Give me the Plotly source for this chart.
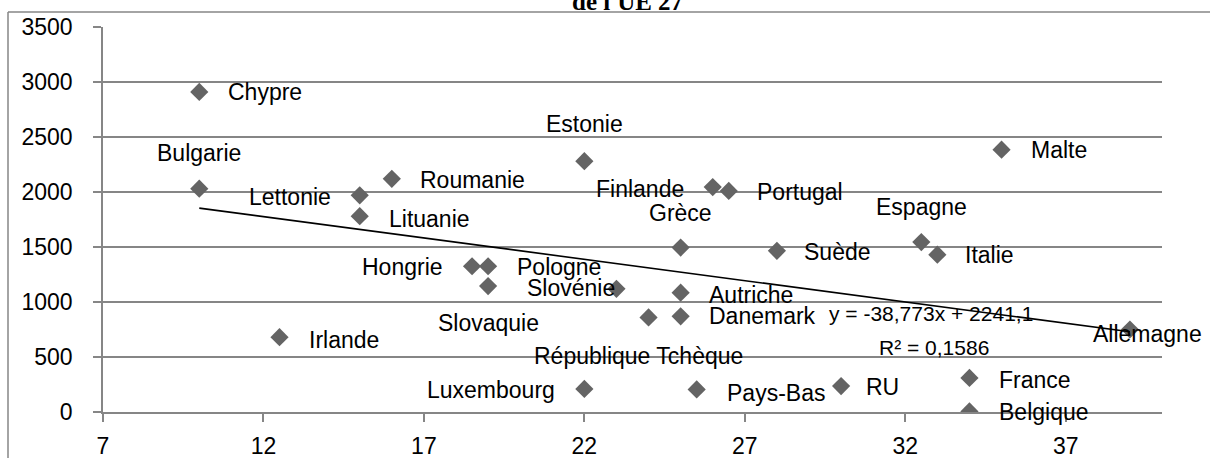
import plotly.graph_objects as go

# ---------------- data ----------------
countries = ["Chypre", "Bulgarie", "Lettonie", "Lituanie", "Roumanie", "Irlande",
             "Hongrie", "Pologne", "Slovaquie", "Estonie", "Luxembourg", "Slovénie",
             "République Tchèque", "Grèce", "Autriche", "Danemark", "Finlande",
             "Pays-Bas", "Portugal", "Suède", "RU", "Espagne", "Italie", "France",
             "Belgique", "Malte", "Allemagne"]
x_vals = [10, 10, 15, 15, 16, 12.5, 18.5, 19, 19, 22, 22, 23, 24, 25, 25, 25, 26,
          25.5, 26.5, 28, 30, 32.5, 33, 34, 34, 35, 39]
y_vals = [2910, 2030, 1970, 1780, 2120, 680, 1325, 1325, 1145, 2280, 210, 1120, 860,
          1495, 1085, 870, 2045, 205, 2010, 1465, 236, 1545, 1430, 310, 5, 2385, 750]

trend_slope = -38.773
trend_intercept = 2241.1
r_squared = "0,1586"
equation_text = "y = -38,773x + 2241,1"
title_text = "de l'UE 27"

x_ticks = [7, 12, 17, 22, 27, 32, 37]
y_ticks = [0, 500, 1000, 1500, 2000, 2500, 3000, 3500]

# ---------------- label placement (pixel offsets: xanchor, xshift, yshift) ----------------
label_pos = {
    "Chypre": ("left", 27, 0), "Bulgarie": ("center", 0, 36), "Lettonie": ("right", -27, -2),
    "Lituanie": ("left", 27, -3), "Roumanie": ("left", 26, -1), "Irlande": ("left", 27, -3),
    "Hongrie": ("right", -27, -1), "Pologne": ("left", 27, -1), "Slovaquie": ("center", 0, -37),
    "Estonie": ("center", 0, 37), "Luxembourg": ("right", -27, -1), "Slovénie": ("right", 1, 1),
    "République Tchèque": ("center", -10, -39), "Grèce": ("center", 0, 35),
    "Autriche": ("left", 26, -2), "Danemark": ("left", 26, 0), "Finlande": ("right", -27, -2),
    "Pays-Bas": ("left", 28, -4), "Portugal": ("left", 26, -1), "Suède": ("left", 25, -1),
    "RU": ("left", 23, -1), "Espagne": ("center", 0, 35), "Italie": ("left", 26, 0),
    "France": ("left", 28, -2), "Belgique": ("left", 28, -1), "Malte": ("left", 27, 0),
    "Allemagne": ("center", 18, -4),
}

W, H = 1210, 458
ML, MR, MT, MB = 103, 48, 27, 46
pw, ph = W - ML - MR, H - MT - MB

FONT = "Liberation Sans, Arial, sans-serif"
GRAY = "#868686"

fig = go.Figure()

fig.add_trace(go.Scatter(
    x=x_vals, y=y_vals, mode="markers",
    marker=dict(symbol="diamond", size=14, color="#646464"),
    hoverinfo="text", text=countries, showlegend=False))

tx = [min(x_vals), max(x_vals)]
ty = [trend_slope * v + trend_intercept for v in tx]
fig.add_trace(go.Scatter(x=tx, y=ty, mode="lines",
                         line=dict(color="black", width=1.6),
                         hoverinfo="skip", showlegend=False))

annotations = []
for name, xv, yv in zip(countries, x_vals, y_vals):
    anc, dx, dy = label_pos[name]
    annotations.append(dict(x=xv, y=yv, xref="x", yref="y", text=name, showarrow=False,
                            xanchor=anc, yanchor="middle", xshift=dx, yshift=dy,
                            font=dict(family=FONT, size=23, color="black")))

# trendline equation and R²
annotations.append(dict(x=32.8, y=900, xref="x", yref="y", text=equation_text,
                        showarrow=False, xanchor="center", yanchor="middle",
                        font=dict(family=FONT, size=21, color="black")))
annotations.append(dict(x=32.9, y=582, xref="x", yref="y", text="R² = " + r_squared,
                        showarrow=False, xanchor="center", yanchor="middle",
                        font=dict(family=FONT, size=21, color="black")))

# (cut-off) title
annotations.append(dict(x=(627 - ML) / pw, y=1, xref="paper", yref="paper",
                        text="<b>" + title_text + "</b>", showarrow=False,
                        xanchor="center", yanchor="bottom", yshift=10,
                        font=dict(family="Liberation Serif, Times New Roman, serif",
                                  size=25, color="black")))

# chart-area border (left and top)
bx0 = (8 - ML) / pw
by0 = (H - MB - 12) / ph
shapes = [
    dict(type="line", xref="paper", yref="paper", x0=bx0, x1=bx0, y0=-MB / ph - 0.01, y1=by0,
         line=dict(color=GRAY, width=1.5)),
    dict(type="line", xref="paper", yref="paper", x0=bx0, x1=(W - ML) / pw + 0.01, y0=by0, y1=by0,
         line=dict(color=GRAY, width=1.5)),
]

fig.update_layout(
    width=W, height=H,
    margin=dict(l=ML, r=MR, t=MT, b=MB, pad=0, autoexpand=False),
    paper_bgcolor="white", plot_bgcolor="white",
    annotations=annotations, shapes=shapes,
    xaxis=dict(range=[7, 40], tickvals=x_ticks, ticktext=[str(v) for v in x_ticks],
               showgrid=False, zeroline=False, showline=True, linecolor=GRAY, linewidth=1.5,
               ticks="outside", ticklen=8, tickcolor=GRAY, tickwidth=1.5,
               ticklabelstandoff=5, automargin=False,
               tickfont=dict(family=FONT, size=23, color="black")),
    yaxis=dict(range=[0, 3500], tickvals=y_ticks, ticktext=[str(v) for v in y_ticks],
               showgrid=True, gridcolor=GRAY, gridwidth=1.5, zeroline=False,
               showline=True, linecolor=GRAY, linewidth=1.5,
               ticks="outside", ticklen=8, tickcolor=GRAY, tickwidth=1.5,
               ticklabelstandoff=16, automargin=False,
               tickfont=dict(family=FONT, size=23, color="black")),
    hovermode="closest",
)

fig.write_html("out.html", config={"displayModeBar": False},
               post_script="document.body.style.margin='0';document.body.style.overflow='hidden';")
